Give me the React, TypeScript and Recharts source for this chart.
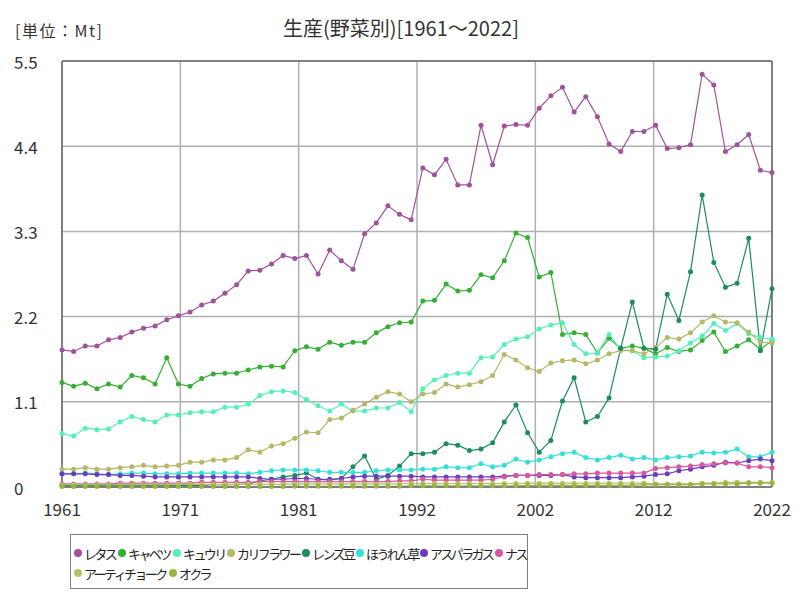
import React from "react";
import {
    LineChart,
    Line,
    XAxis,
    YAxis,
    CartesianGrid,
    ReferenceLine,
} from "recharts";

const years = Array.from({ length: 62 }, (_, i) => 1961 + i);

// values in Mt, 1961..2022 (10 per row)
const lettuce = [
    1.77, 1.75, 1.82, 1.82, 1.9, 1.93, 2.0, 2.05, 2.08, 2.16,
    2.21, 2.26, 2.35, 2.4, 2.5, 2.61, 2.79, 2.8, 2.88, 2.99,
    2.95, 2.99, 2.75, 3.06, 2.92, 2.81, 3.27, 3.41, 3.63, 3.52,
    3.45, 4.12, 4.03, 4.23, 3.9, 3.9, 4.67, 4.16, 4.66, 4.68,
    4.67, 4.89, 5.05, 5.16, 4.84, 5.04, 4.78, 4.43, 4.33, 4.59,
    4.59, 4.67, 4.37, 4.38, 4.42, 5.33, 5.19, 4.33, 4.42, 4.55,
    4.09, 4.06,
];
const cabbage = [
    1.35, 1.3, 1.34, 1.27, 1.33, 1.29, 1.44, 1.41, 1.33, 1.67,
    1.33, 1.3, 1.4, 1.46, 1.47, 1.47, 1.51, 1.55, 1.56, 1.55,
    1.76, 1.81, 1.78, 1.87, 1.83, 1.87, 1.87, 1.99, 2.07, 2.12,
    2.13, 2.4, 2.41, 2.62, 2.53, 2.54, 2.74, 2.7, 2.92, 3.28,
    3.22, 2.71, 2.77, 1.97, 1.99, 1.97, 1.73, 1.92, 1.79, 1.82,
    1.79, 1.72, 1.8, 1.75, 1.77, 1.89, 2.0, 1.75, 1.82, 1.9,
    1.78, 1.89,
];
const cucumber = [
    0.69, 0.66, 0.76, 0.74, 0.75, 0.84, 0.91, 0.87, 0.84, 0.93,
    0.93, 0.96, 0.97, 0.97, 1.03, 1.03, 1.07, 1.18, 1.23, 1.24,
    1.22, 1.13, 1.05, 0.98, 1.07, 0.98, 0.98, 1.02, 1.02, 1.09,
    0.97, 1.27, 1.38, 1.44, 1.47, 1.47, 1.67, 1.68, 1.84, 1.91,
    1.94, 2.04, 2.09, 2.12, 1.84, 1.72, 1.73, 1.97, 1.77, 1.76,
    1.67, 1.68, 1.69, 1.76, 1.86, 1.95, 2.11, 2.02, 2.11, 1.98,
    1.93, 1.91,
];
const cauliflower = [
    0.23, 0.23, 0.25, 0.23, 0.23, 0.25, 0.26, 0.28, 0.26, 0.27,
    0.28, 0.32, 0.32, 0.35, 0.35, 0.38, 0.48, 0.45, 0.53, 0.56,
    0.63, 0.71, 0.7, 0.87, 0.89, 0.99, 1.07, 1.16, 1.23, 1.2,
    1.1, 1.2, 1.22, 1.33, 1.29, 1.32, 1.36, 1.44, 1.71, 1.64,
    1.54, 1.49, 1.6, 1.63, 1.64, 1.59, 1.64, 1.72, 1.76, 1.76,
    1.72, 1.8, 1.93, 1.91, 1.99, 2.13, 2.21, 2.13, 2.12, 2.0,
    1.87, 1.86,
];
const lentil = [
    0.02, 0.02, 0.02, 0.02, 0.02, 0.02, 0.02, 0.02, 0.02, 0.02,
    0.02, 0.02, 0.02, 0.03, 0.03, 0.03, 0.04, 0.08, 0.1, 0.13,
    0.15, 0.18, 0.1, 0.09, 0.11, 0.26, 0.4, 0.1, 0.15, 0.27,
    0.43, 0.43, 0.45, 0.56, 0.54, 0.47, 0.49, 0.57, 0.84, 1.06,
    0.7, 0.45, 0.6, 1.11, 1.41, 0.84, 0.91, 1.15, 1.79, 2.39,
    1.79, 1.78, 2.49, 2.15, 2.78, 3.77, 2.9, 2.58, 2.63, 3.21,
    1.76, 2.56,
];
const spinach = [
    0.17, 0.17, 0.18, 0.17, 0.16, 0.17, 0.18, 0.18, 0.17, 0.17,
    0.17, 0.18, 0.18, 0.18, 0.18, 0.18, 0.17, 0.19, 0.21, 0.22,
    0.22, 0.22, 0.21, 0.19, 0.19, 0.19, 0.19, 0.21, 0.22, 0.22,
    0.22, 0.23, 0.23, 0.26, 0.25, 0.25, 0.3, 0.26, 0.28, 0.36,
    0.32, 0.35, 0.39, 0.43, 0.45, 0.38, 0.35, 0.38, 0.41, 0.36,
    0.38, 0.35, 0.38, 0.39, 0.4, 0.45, 0.44, 0.45, 0.49, 0.39,
    0.39, 0.45,
];
const asparagus = [
    0.17, 0.17, 0.17, 0.16, 0.16, 0.15, 0.15, 0.14, 0.13, 0.13,
    0.13, 0.13, 0.13, 0.13, 0.13, 0.13, 0.13, 0.11, 0.1, 0.1,
    0.11, 0.11, 0.1, 0.1, 0.11, 0.13, 0.14, 0.14, 0.14, 0.14,
    0.14, 0.13, 0.13, 0.13, 0.13, 0.13, 0.13, 0.13, 0.14, 0.15,
    0.15, 0.15, 0.15, 0.16, 0.13, 0.12, 0.12, 0.12, 0.12, 0.13,
    0.14, 0.16, 0.17, 0.21, 0.23, 0.26, 0.28, 0.32, 0.31, 0.34,
    0.36, 0.34,
];
const eggplant = [
    0.04, 0.04, 0.04, 0.04, 0.04, 0.05, 0.05, 0.05, 0.05, 0.05,
    0.05, 0.05, 0.06, 0.06, 0.06, 0.06, 0.06, 0.07, 0.07, 0.07,
    0.07, 0.07, 0.07, 0.07, 0.07, 0.07, 0.07, 0.07, 0.07, 0.08,
    0.08, 0.1, 0.09, 0.09, 0.09, 0.09, 0.09, 0.1, 0.13, 0.15,
    0.15, 0.16, 0.16, 0.16, 0.17, 0.17, 0.18, 0.18, 0.18, 0.18,
    0.18, 0.24, 0.25, 0.26, 0.27, 0.29, 0.3, 0.31, 0.31, 0.26,
    0.26, 0.25,
];
const artichoke = [
    0.03, 0.03, 0.03, 0.03, 0.03, 0.03, 0.03, 0.03, 0.03, 0.03,
    0.035, 0.035, 0.035, 0.035, 0.035, 0.035, 0.035, 0.035, 0.035, 0.035,
    0.04, 0.04, 0.04, 0.04, 0.04, 0.04, 0.04, 0.04, 0.04, 0.04,
    0.045, 0.045, 0.045, 0.045, 0.045, 0.045, 0.045, 0.045, 0.045, 0.045,
    0.05, 0.05, 0.05, 0.05, 0.05, 0.05, 0.05, 0.05, 0.05, 0.05,
    0.05, 0.04, 0.04, 0.04, 0.04, 0.05, 0.05, 0.06, 0.06, 0.06,
    0.06, 0.06,
];
const okra = [
    0.005, 0.005, 0.005, 0.005, 0.005, 0.005, 0.005, 0.005, 0.005, 0.005,
    0.005, 0.005, 0.005, 0.005, 0.005, 0.005, 0.005, 0.005, 0.005, 0.005,
    0.01, 0.01, 0.01, 0.01, 0.01, 0.01, 0.01, 0.01, 0.01, 0.01,
    0.015, 0.015, 0.015, 0.015, 0.015, 0.015, 0.015, 0.015, 0.015, 0.015,
    0.02, 0.02, 0.02, 0.02, 0.02, 0.02, 0.02, 0.02, 0.02, 0.02,
    0.03, 0.03, 0.03, 0.03, 0.03, 0.04, 0.04, 0.04, 0.04, 0.05,
    0.05, 0.05,
];

const series = [
    { name: "レタス", values: lettuce, color: "#a0529a" },
    { name: "キャベツ", values: cabbage, color: "#35b035" },
    { name: "キュウリ", values: cucumber, color: "#55f0b8" },
    { name: "カリフラワー", values: cauliflower, color: "#b5b865" },
    { name: "レンズ豆", values: lentil, color: "#1d8c5e" },
    { name: "ほうれん草", values: spinach, color: "#35e0d5" },
    { name: "アスパラガス", values: asparagus, color: "#6a3cc0" },
    { name: "ナス", values: eggplant, color: "#d8589e" },
    { name: "アーティチョーク", values: artichoke, color: "#b8c064" },
    { name: "オクラ", values: okra, color: "#9ab440" },
];

const yTicks = [0, 1.1, 2.2, 3.3, 4.4, 5.5];
const xTickLabels = ["1961", "1971", "1981", "1992", "2002", "2012", "2022"];
// evenly spaced tick positions over the year range
const xTicks = xTickLabels.map((_, i) => 1961 + (i * 61) / 6);

// legend item slots (left of dot, row) inside the legend box
const legendSlots = [
    [3, 0], [47, 0], [102, 0], [156, 0], [231, 0], [285, 0], [349, 0], [424, 0],
    [3, 1], [98, 1],
];

const data = years.map((year, i) => {
    const row: Record<string, number> = { year };
    series.forEach((s) => {
        row[s.name] = s.values[i];
    });
    return row;
});

const FONT = "'Noto Sans CJK JP', 'DejaVu Sans', sans-serif";

const YTick = (props: any) => {
    const { y, payload } = props;
    return (
        <text x={14} y={y} textAnchor="start" dominantBaseline="central" fontSize={17} fill="#333" fontFamily={FONT}>
            {payload.value === 0 ? "0" : payload.value.toFixed(1)}
        </text>
    );
};

const XTick = (props: any) => {
    const { x, payload, index } = props;
    return (
        <text x={x} y={508} textAnchor="middle" dominantBaseline="central" fontSize={17} fill="#333" fontFamily={FONT}>
            {xTickLabels[index] ?? Math.round(payload.value)}
        </text>
    );
};

export default function App() {
    return (
        <div style={{ position: "absolute", left: 0, top: 0, width: 800, height: 600, background: "#fff", fontFamily: FONT }}>
            <LineChart
                width={800}
                height={600}
                data={data}
                margin={{ top: 61, right: 28, bottom: 83, left: 12 }}
            >
                <text x={401} y={27} textAnchor="middle" dominantBaseline="central" fontSize={20} fill="#333" fontFamily={FONT}>
                    生産(野菜別)[1961～2022]
                </text>
                <text x={15} y={30} textAnchor="start" dominantBaseline="central" fontSize={16} letterSpacing={1.5} fill="#333" fontFamily={FONT}>
                    [単位：Mt]
                </text>
                <CartesianGrid stroke="#b0b0b0" strokeWidth={1.5} />
                <XAxis
                    type="number"
                    dataKey="year"
                    domain={[1961, 2022]}
                    ticks={xTicks}
                    interval={0}
                    height={30}
                    tick={<XTick />}
                    tickLine={false}
                    axisLine={{ stroke: "#808080", strokeWidth: 2 }}
                />
                <YAxis
                    width={50}
                    domain={[0, 5.5]}
                    ticks={yTicks}
                    interval={0}
                    tick={<YTick />}
                    tickLine={false}
                    axisLine={{ stroke: "#808080", strokeWidth: 2 }}
                />
                <ReferenceLine y={5.5} stroke="#808080" strokeWidth={2} />
                <ReferenceLine x={2022} stroke="#808080" strokeWidth={2} />
                {series.map((s) => (
                    <Line
                        key={s.name}
                        type="linear"
                        dataKey={s.name}
                        stroke={s.color}
                        strokeWidth={1.2}
                        dot={{ r: 2.5, fill: s.color, stroke: "none" }}
                        activeDot={false}
                        isAnimationActive={false}
                    />
                ))}
            </LineChart>
            <div
                style={{
                    position: "absolute",
                    left: 70,
                    top: 534,
                    width: 456,
                    height: 53,
                    border: "1.5px solid #808080",
                    boxSizing: "content-box",
                }}
            >
                {series.map((s, i) => (
                    <div
                        key={s.name}
                        style={{
                            position: "absolute",
                            left: legendSlots[i][0],
                            top: 8 + legendSlots[i][1] * 20,
                            height: 20,
                            display: "flex",
                            alignItems: "center",
                        }}
                    >
                        <span
                            style={{
                                display: "inline-block",
                                width: 8,
                                height: 8,
                                borderRadius: "50%",
                                background: s.color,
                                marginRight: 2,
                            }}
                        />
                        <span style={{ fontSize: 13, letterSpacing: "-2.6px", color: "#222", whiteSpace: "nowrap" }}>
                            {s.name}
                        </span>
                    </div>
                ))}
            </div>
        </div>
    );
}
